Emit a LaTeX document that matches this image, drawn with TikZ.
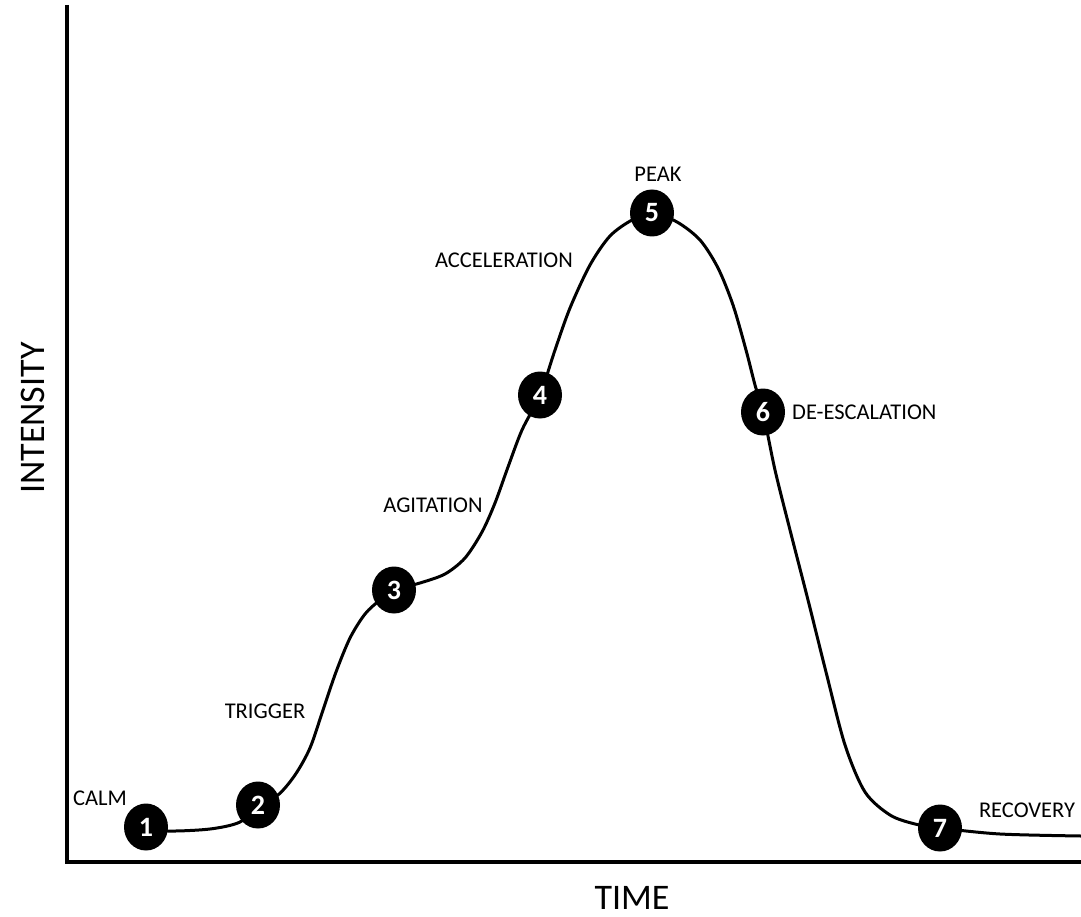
\documentclass[tikz,border=0pt]{standalone}
\usepackage{fontspec}
\setmainfont{Carlito}
\usetikzlibrary{shapes.geometric}
\begin{document}
\begin{tikzpicture}[x=1pt,y=-1pt,
  stage/.style={ellipse,fill=black,text=white,inner sep=0pt,minimum width=44pt,minimum height=47pt,
    font=\fontsize{28}{28}\selectfont\bfseries},
  lbl/.style={inner sep=0pt,font=\fontsize{22.5}{27}\selectfont},
  axislbl/.style={inner sep=0pt,font=\fontsize{36}{40}\selectfont},
  axisline/.style={line width=4pt,line join=miter},
  curve/.style={line width=3pt,line cap=round}]
\useasboundingbox (0,0) rectangle (1081,917);
% axes
\coordinate (top) at (67,5);
\coordinate (origin) at (67,862);
\coordinate (right) at (1081,862);
\draw[axisline] (top) -- (origin) -- (right);
% curve anchor coordinates
\coordinate (s) at (127,829);
\coordinate (p1) at (146,827);
\coordinate (p2) at (258,805);
\coordinate (p3) at (394,590);
\coordinate (p4) at (540,395);
\coordinate (p5) at (652,213);
\coordinate (p6) at (763,412);
\coordinate (p7) at (940,828);
\coordinate (e) at (1081,836);
\draw[curve] plot[smooth,tension=0.5] coordinates {
  (s) (p1) (168,831) (210,829) (240,822) (p2)
  (278,795) (295,775) (310,748) (323,710) (336,672) (350,638) (365,614) (380,600) (p3)
  (420,583) (445,574) (465,558) (482,532) (495,503) (508,467) (522,430) (p4)
  (555,350) (570,308) (590,265) (610,236) (632,220) (p5)
  (677,222) (700,240) (718,268) (733,305) (746,350) (755,385) (p6)
  (775,470) (790,530) (808,600) (826,672) (845,745) (865,792) (890,815) (915,824) (p7)
  (1000,834) (e)};
% stage markers
\node[stage] (n1) at (p1) {1};
\node[stage] (n2) at (p2) {2};
\node[stage] (n3) at (p3) {3};
\node[stage] (n4) at (p4) {4};
\node[stage] (n5) at (p5) {5};
\node[stage] (n6) at (p6) {6};
\node[stage] (n7) at (p7) {7};
% labels
\node[lbl] (calm) at (100,798) {CALM};
\node[lbl] (trigger) at (265,711) {TRIGGER};
\node[lbl] (agitation) at (433,505) {AGITATION};
\node[lbl] (accel) at (504,260) {ACCELERATION};
\node[lbl] (peak) at (658,174) {PEAK};
\node[lbl,anchor=west] (deesc) at (792,412) {DE-ESCALATION};
\node[lbl] (recovery) at (1027,810) {RECOVERY};
% axis labels
\node[axislbl] (time) at (632,898) {TIME};
\node[axislbl,rotate=90] (intensity) at (33,418) {INTENSITY};
\end{tikzpicture}
\end{document}
